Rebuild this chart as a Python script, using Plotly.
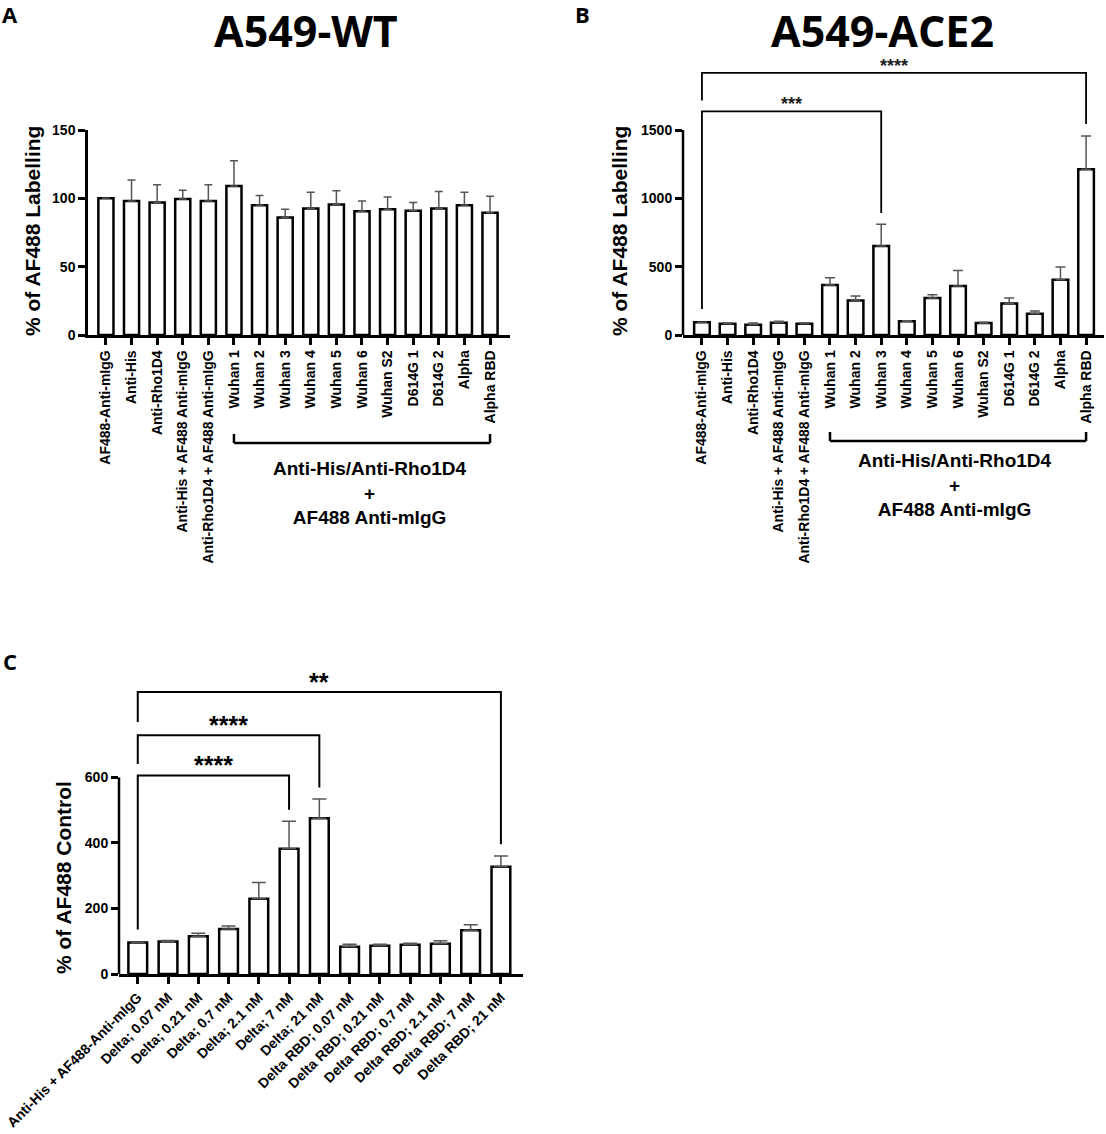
import plotly.graph_objects as go

W, H = 1106, 1134

# panels A and B share the same samples
cats_ab = ["AF488-Anti-mIgG", "Anti-His", "Anti-Rho1D4", "Anti-His + AF488 Anti-mIgG",
           "Anti-Rho1D4 + AF488 Anti-mIgG", "Wuhan 1", "Wuhan 2", "Wuhan 3", "Wuhan 4",
           "Wuhan 5", "Wuhan 6", "Wuhan S2", "D614G 1", "D614G 2", "Alpha", "Alpha RBD"]

# A549-WT (% of AF488 labelling), mean and upper SD
wt_mean = [100, 98, 97, 99.5, 98, 109, 95, 86, 92.5, 95.5, 90.5, 92, 91, 92.5, 95, 89.5]
wt_sd = [0, 15.5, 13, 6.5, 12, 18.5, 7, 6, 12, 10, 7.5, 9, 6, 12.5, 9.5, 12]

# A549-ACE2
ace2_mean = [94, 83, 75, 90, 82, 366, 253, 652, 101, 270, 358, 88, 231, 156, 405, 1213]
ace2_sd = [0, 4, 12, 11, 8, 52, 32, 158, 4, 25, 114, 6, 39, 19, 92, 243]

# panel C, Delta titration
cats_c = ["Anti-His + AF488-Anti-mIgG", "Delta; 0.07 nM", "Delta; 0.21 nM", "Delta; 0.7 nM",
          "Delta; 2.1 nM", "Delta; 7 nM", "Delta; 21 nM", "Delta RBD; 0.07 nM",
          "Delta RBD; 0.21 nM", "Delta RBD; 0.7 nM", "Delta RBD; 2.1 nM", "Delta RBD; 7 nM",
          "Delta RBD; 21 nM"]
delta_mean = [96, 99, 115, 137.5, 230, 382, 475, 83.5, 86.5, 89.5, 92.5, 133.5, 327]
delta_sd = [0, 3, 9, 9, 49, 84, 59, 7, 4, 4, 9, 17, 33]

# significance brackets: start, end, label, bracket height, left foot, right foot
ace2_sig = [("AF488-Anti-mIgG", "Wuhan 3", "***", 1637, 191, 893),
            ("AF488-Anti-mIgG", "Alpha RBD", "****", 1918, 1715, 1544)]
delta_sig = [("Anti-His + AF488-Anti-mIgG", "Delta; 7 nM", "****", 606, 136, 501),
             ("Anti-His + AF488-Anti-mIgG", "Delta; 21 nM", "****", 729, 641, 569),
             ("Anti-His + AF488-Anti-mIgG", "Delta RBD; 21 nM", "**", 861, 769, 396)]

group_label = "Anti-His/Anti-Rho1D4<br>+<br>AF488 Anti-mIgG"

FONT = "Liberation Sans, Arial, sans-serif"
TITLE_FONT = "Open Sans, Liberation Sans, sans-serif"


def px(x):
    return x / W


def py(y):
    return 1 - y / H


# panel geometry in pixels
dom_a = dict(x=[px(88), px(510)], y=[py(335), py(130)])
dom_b = dict(x=[px(683), px(1104)], y=[py(335), py(48)])
dom_c = dict(x=[px(119), px(523)], y=[py(974), py(666)])

fig = go.Figure()


def add_bars(x, y, sd, xa, ya, width, capw):
    fig.add_trace(go.Bar(
        x=x, y=y, xaxis=xa, yaxis=ya, width=width,
        marker=dict(color="white", line=dict(color="black", width=2.5)),
        error_y=dict(type="data", array=sd, arrayminus=[0] * len(sd), symmetric=False,
                     color="#555555", thickness=1.5, width=capw),
        showlegend=False, hoverinfo="x+y"))


add_bars(cats_ab, wt_mean, wt_sd, "x", "y", 0.59, 4)
add_bars(cats_ab, ace2_mean, ace2_sd, "x2", "y2", 0.61, 5)
add_bars(cats_c, delta_mean, delta_sd, "x3", "y3", 0.62, 7)

annotations = []


def add_sig(sig, cats, xa, ya, lw, size, bold, color, shift):
    for a, b, lab, h, lf, rf in sig:
        fig.add_trace(go.Scatter(
            x=[a, a, b, b], y=[lf, h, h, rf], mode="lines", xaxis=xa, yaxis=ya,
            line=dict(color="black", width=lw), showlegend=False, hoverinfo="skip",
            cliponaxis=False))
        annotations.append(dict(
            x=(cats.index(a) + cats.index(b)) / 2, y=h, xref=xa, yref=ya, text=lab,
            showarrow=False, xanchor="center", yanchor="bottom", yshift=shift,
            font=dict(family=FONT, size=size, color=color,
                      weight="bold" if bold else "normal")))


add_sig(ace2_sig, cats_ab, "x2", "y2", 1.8, 18, True, "#222222", -5)
add_sig(delta_sig, cats_c, "x3", "y3", 2, 25, True, "black", -6)

xtickfont = dict(family=FONT, size=14, color="black", weight="bold")
ytickfont = dict(family=FONT, size=14, color="black", weight="bold")
xcommon = dict(type="category", showline=True, linewidth=2.5, linecolor="black",
               ticks="outside", ticklen=7, tickwidth=2.5, tickcolor="black",
               tickfont=xtickfont, showgrid=False, zeroline=False, fixedrange=True,
               automargin=False)
ycommon = dict(ticks="outside", ticklen=7, tickwidth=2.5, tickcolor="black",
               tickfont=ytickfont, showgrid=False, zeroline=False, fixedrange=True,
               linewidth=2.5, linecolor="black", automargin=False)

fig.update_layout(
    width=W, height=H, margin=dict(l=0, r=0, t=0, b=0, autoexpand=False),
    paper_bgcolor="white", plot_bgcolor="white", bargap=0.4,
    xaxis=dict(xcommon, domain=dom_a["x"], anchor="y", range=[-0.7, 15.78], tickangle=-90),
    yaxis=dict(ycommon, domain=dom_a["y"], anchor="x", range=[0, 150],
               tickvals=[0, 50, 100, 150], showline=True),
    xaxis2=dict(xcommon, domain=dom_b["x"], anchor="y2", range=[-0.74, 15.7], tickangle=-90),
    yaxis2=dict(ycommon, domain=dom_b["y"], anchor="x2", range=[0, 2100],
                tickvals=[0, 500, 1000, 1500], showline=False),
    xaxis3=dict(xcommon, domain=dom_c["x"], anchor="y3", range=[-0.62, 12.73], tickangle=-45),
    yaxis3=dict(ycommon, domain=dom_c["y"], anchor="x3", range=[0, 940],
                tickvals=[0, 200, 400, 600], showline=False),
)

shapes = [
    # y axis lines stopping at the top tick for B and C
    dict(type="line", xref="paper", yref="y2", x0=dom_b["x"][0], x1=dom_b["x"][0],
         y0=0, y1=1500, line=dict(color="black", width=2.5)),
    dict(type="line", xref="paper", yref="y3", x0=dom_c["x"][0], x1=dom_c["x"][0],
         y0=0, y1=600, line=dict(color="black", width=2.5)),
]

# group bracket under the spike-protein samples
for xa, yb in (("x", 443), ("x2", 441)):
    shapes.append(dict(type="line", xref=xa, yref="paper", x0="Wuhan 1", x1="Alpha RBD",
                       y0=py(yb), y1=py(yb), line=dict(color="black", width=2.5)))
    for c in ("Wuhan 1", "Alpha RBD"):
        shapes.append(dict(type="line", xref=xa, yref="paper", x0=c, x1=c,
                           y0=py(yb), y1=py(yb - 9), line=dict(color="black", width=2.5)))


def paper_note(text, x, y, size, family=FONT, angle=0):
    annotations.append(dict(
        x=px(x), y=py(y), text=text, xref="paper", yref="paper", showarrow=False,
        xanchor="center", yanchor="middle", align="center", textangle=angle,
        font=dict(family=family, size=size, color="black", weight="bold")))


paper_note(group_label, 370, 493, 19)
paper_note(group_label, 955, 485, 19)

# titles, panel letters, axis titles
paper_note("A549-WT", 306, 30, 43, TITLE_FONT)
paper_note("A549-ACE2", 882, 30, 43, TITLE_FONT)
for lab, x, y in (("A", 10, 14), ("B", 582, 14), ("C", 10, 661)):
    paper_note(lab, x, y, 22, TITLE_FONT)
for lab, x, y in (("% of AF488 Labelling", 32, 231), ("% of AF488 Labelling", 619, 231),
                  ("% of AF488 Control", 63, 878)):
    paper_note(lab, x, y, 21, angle=-90)

fig.update_layout(shapes=shapes, annotations=annotations)

# the page body has a default 8px margin; drop it so the figure fills the window
fig.write_html("out.html", config={"displayModeBar": False},
               post_script="document.body.style.margin = '0';")
